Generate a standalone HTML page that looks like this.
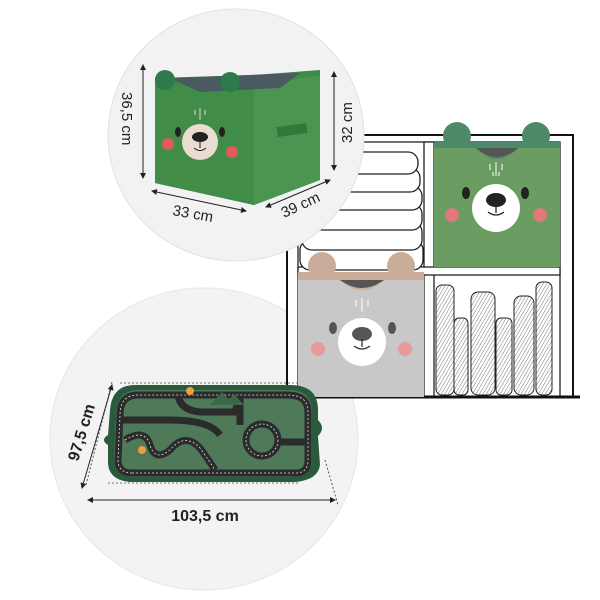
<!DOCTYPE html>
<html><head><meta charset="utf-8"><style>
html,body{margin:0;padding:0;background:#fff;width:600px;height:600px;overflow:hidden}
svg{display:block}
text{font-family:"Liberation Sans","DejaVu Sans",sans-serif;fill:#222}
</style></head><body>
<svg width="600" height="600" viewBox="0 0 600 600" xmlns="http://www.w3.org/2000/svg">
<defs>
<pattern id="hatch" width="3" height="3" patternUnits="userSpaceOnUse" patternTransform="rotate(30)">
<line x1="0" y1="0" x2="0" y2="3" stroke="#555" stroke-width="0.8"/></pattern>
<marker id="ar" viewBox="0 0 6 6" refX="5" refY="3" markerWidth="6" markerHeight="6" orient="auto-start-reverse"><path d="M0,0L6,3L0,6z" fill="#222"/></marker>
</defs>

<!-- Bottom circle (behind shelf) -->
<ellipse cx="204" cy="439" rx="154" ry="151" fill="#f3f3f3" stroke="#e6e6e6"/>

<!-- Shelf -->
<rect x="287" y="135" width="286" height="262" fill="#fff" stroke="#111" stroke-width="2"/>
<rect x="298" y="142" width="262" height="255" fill="#fff" stroke="#111" stroke-width="1.2"/>
<rect x="424" y="142" width="10" height="255" fill="#fff" stroke="#111" stroke-width="1.2"/>
<rect x="298" y="267" width="262" height="8" fill="#fff" stroke="#111" stroke-width="1.2"/>
<line x1="287" y1="397" x2="580" y2="397" stroke="#111" stroke-width="3"/>
<!-- pillows -->
<g fill="#fff" stroke="#222" stroke-width="1.3">
<rect x="300" y="240" width="123" height="30" rx="10"/>
<rect x="302" y="222" width="120" height="28" rx="10"/>
<rect x="304" y="204" width="118" height="26" rx="10"/>
<rect x="306" y="186" width="116" height="24" rx="10"/>
<rect x="308" y="168" width="112" height="24" rx="10"/>
<rect x="312" y="152" width="106" height="22" rx="10"/>
</g>
<!-- books -->
<g stroke="#222" stroke-width="1">
<rect x="436" y="285" width="18" height="110" rx="6" fill="url(#hatch)"/>
<rect x="454" y="318" width="14" height="77" rx="5" fill="url(#hatch)"/>
<rect x="471" y="292" width="24" height="103" rx="7" fill="url(#hatch)"/>
<rect x="496" y="318" width="16" height="77" rx="5" fill="url(#hatch)"/>
<rect x="514" y="296" width="20" height="99" rx="7" fill="url(#hatch)"/>
<rect x="536" y="282" width="16" height="113" rx="6" fill="url(#hatch)"/>
</g>
<!-- green box -->
<circle cx="457" cy="136" r="14" fill="#4e8a6a"/>
<circle cx="536" cy="136" r="14" fill="#4e8a6a"/>
<rect x="434" y="142" width="126" height="125" fill="#6b9d63"/>
<path d="M434,142 L560,142 L560,148 L518,148 Q497,170 476,148 L434,148 Z" fill="#4e8a6a"/>
<path d="M476,148 L518,148 Q497,166 476,148Z" fill="#555"/>
<circle cx="496" cy="208" r="24" fill="#fff"/>
<ellipse cx="466" cy="193" rx="4" ry="6" fill="#222"/>
<ellipse cx="525" cy="193" rx="4" ry="6" fill="#222"/>
<ellipse cx="496" cy="200" rx="10" ry="7" fill="#222"/>
<path d="M496,205 v8 M488,212 q8,6 16,0" stroke="#222" fill="none" stroke-width="1.3"/>
<circle cx="452" cy="215" r="7" fill="#e07a7a"/>
<circle cx="540" cy="215" r="7" fill="#e07a7a"/>
<g stroke="#fff" stroke-width="1"><line x1="490" y1="164" x2="490" y2="170"/><line x1="496" y1="162" x2="496" y2="176"/><line x1="502" y1="164" x2="502" y2="170"/><line x1="493" y1="172" x2="493" y2="176"/><line x1="499" y1="172" x2="499" y2="176"/></g>
<!-- grey box -->
<circle cx="322" cy="266" r="14" fill="#c9ad98"/>
<circle cx="401" cy="266" r="14" fill="#c9ad98"/>
<rect x="298" y="275" width="126" height="122" fill="#c8c8c8"/>
<path d="M298,272 L424,272 L424,280 L384,280 Q362,300 340,280 L298,280 Z" fill="#c9ad98"/>
<path d="M340,280 L384,280 Q362,296 340,280Z" fill="#555"/>
<circle cx="362" cy="342" r="24" fill="#fff"/>
<ellipse cx="333" cy="328" rx="4" ry="6" fill="#555"/>
<ellipse cx="392" cy="328" rx="4" ry="6" fill="#555"/>
<ellipse cx="362" cy="334" rx="10" ry="7" fill="#555"/>
<path d="M362,339 v8 M354,346 q8,6 16,0" stroke="#333" fill="none" stroke-width="1.3"/>
<circle cx="318" cy="349" r="7" fill="#e89a9a"/>
<circle cx="405" cy="349" r="7" fill="#e89a9a"/>
<g stroke="#fff" stroke-width="1"><line x1="356" y1="300" x2="356" y2="306"/><line x1="362" y1="298" x2="362" y2="312"/><line x1="368" y1="300" x2="368" y2="306"/></g>

<!-- Top circle -->
<ellipse cx="236" cy="135" rx="128" ry="126" fill="#f2f2f2" stroke="#e2e2e2"/>
<!-- box -->
<path d="M155,78 L254,75 L320,70 L320,180 L254,205 L155,183 Z" fill="#3f8a45"/>
<path d="M254,85 L320,75 L320,180 L254,205 Z" fill="#4a9650"/>
<path d="M155,85 L254,88 L254,205 L155,183 Z" fill="#418c46"/>
<path d="M170,78 L300,73 L280,88 L200,92Z" fill="#4a5a60"/>
<circle cx="165" cy="80" r="10" fill="#2f7a4a"/>
<circle cx="230" cy="82" r="10" fill="#2f7a4a"/>
<rect x="277" y="125" width="30" height="10" fill="#2e7a38" transform="rotate(-8 292 130)"/>
<circle cx="200" cy="142" r="18" fill="#e9ddd2"/>
<ellipse cx="178" cy="132" rx="3" ry="5" fill="#222"/>
<ellipse cx="222" cy="132" rx="3" ry="5" fill="#222"/>
<ellipse cx="200" cy="137" rx="8" ry="5" fill="#222"/>
<path d="M200,142 v6 M194,148 q6,5 12,0" stroke="#222" fill="none"/>
<circle cx="168" cy="144" r="6" fill="#e05a5a"/>
<circle cx="232" cy="152" r="6" fill="#e05a5a"/>
<g stroke="#ddd" stroke-width="1"><line x1="195" y1="110" x2="195" y2="115"/><line x1="200" y1="108" x2="200" y2="120"/><line x1="205" y1="110" x2="205" y2="115"/></g>
<!-- dims -->
<line x1="143" y1="65" x2="143" y2="178" stroke="#222" marker-start="url(#ar)" marker-end="url(#ar)"/>
<line x1="334" y1="72" x2="334" y2="170" stroke="#222" marker-start="url(#ar)" marker-end="url(#ar)"/>
<line x1="152" y1="191" x2="246" y2="211" stroke="#222" marker-start="url(#ar)" marker-end="url(#ar)"/>
<line x1="266" y1="207" x2="330" y2="180" stroke="#222" marker-start="url(#ar)" marker-end="url(#ar)"/>
<text x="0" y="0" font-size="15" transform="translate(122,92) rotate(90)">36,5 cm</text>
<text x="0" y="0" font-size="15" transform="translate(352,143) rotate(-90)">32 cm</text>
<text x="0" y="0" font-size="15" transform="translate(172,215) rotate(10)">33 cm</text>
<text x="0" y="0" font-size="15" transform="translate(284,218) rotate(-25)">39 cm</text>

<!-- mat guides -->
<path d="M120,383 L300,383" stroke="#777" stroke-dasharray="2,2"/>
<path d="M108,483 L300,483" stroke="#777" stroke-dasharray="2,2"/>
<path d="M112,382 L86,485 M325,460 L338,505" stroke="#555" stroke-dasharray="2,2"/>
<!-- mat -->
<path d="M135,385 L290,385 Q318,385 318,410 L318,420 Q326,428 318,436 L320,465 Q318,480 295,482 L130,482 Q107,480 108,460 L108,445 Q100,440 108,435 L110,410 Q112,385 135,385Z" fill="#2a5a3c"/>
<path d="M140,390 L288,390 Q312,390 312,412 L312,460 Q312,476 292,477 L132,477 Q114,476 114,458 L116,412 Q118,390 140,390Z" fill="#4e7a5a"/>
<g fill="none" stroke="#2b2b2b" stroke-width="7">
<path d="M132,473 L296,473 Q308,473 308,460 L308,412 Q308,395 288,395 L138,395 Q120,395 120,415 L118,460 Q118,473 132,473"/>
<path d="M122,420 L170,420 Q210,420 220,435 M178,395 Q180,410 200,412 L235,412 L240,395"/>
<path d="M125,440 Q145,428 150,445 Q155,462 170,450 Q185,432 200,448 Q210,462 215,470"/>
<circle cx="262" cy="440" r="16"/>
<path d="M278,442 L308,442 M240,395 L240,425"/>
</g>
<g fill="none" stroke="#ddd" stroke-width="0.8" stroke-dasharray="2,2">
<path d="M132,473 L296,473 Q308,473 308,460 L308,412 Q308,395 288,395 L138,395 Q120,395 120,415 L118,460 Q118,473 132,473"/>
<circle cx="262" cy="440" r="16"/>
<path d="M125,440 Q145,428 150,445 Q155,462 170,450 Q185,432 200,448 Q210,462 215,470"/>
</g>
<path d="M210,405 L222,392 L234,405Z M224,405 L234,394 L244,405Z" fill="#3a6a4a"/>
<circle cx="190" cy="391" r="4" fill="#e8a040"/>
<circle cx="142" cy="450" r="4" fill="#e8a040"/>
<line x1="82" y1="488" x2="112" y2="385" stroke="#222" marker-start="url(#ar)" marker-end="url(#ar)"/>
<line x1="88" y1="500" x2="335" y2="500" stroke="#222" marker-start="url(#ar)" marker-end="url(#ar)"/>
<text x="0" y="0" font-size="16" font-weight="bold" transform="translate(78,462) rotate(-73)">97,5 cm</text>
<text x="205" y="521" font-size="16" font-weight="bold" text-anchor="middle">103,5 cm</text>
</svg>
</body></html>
